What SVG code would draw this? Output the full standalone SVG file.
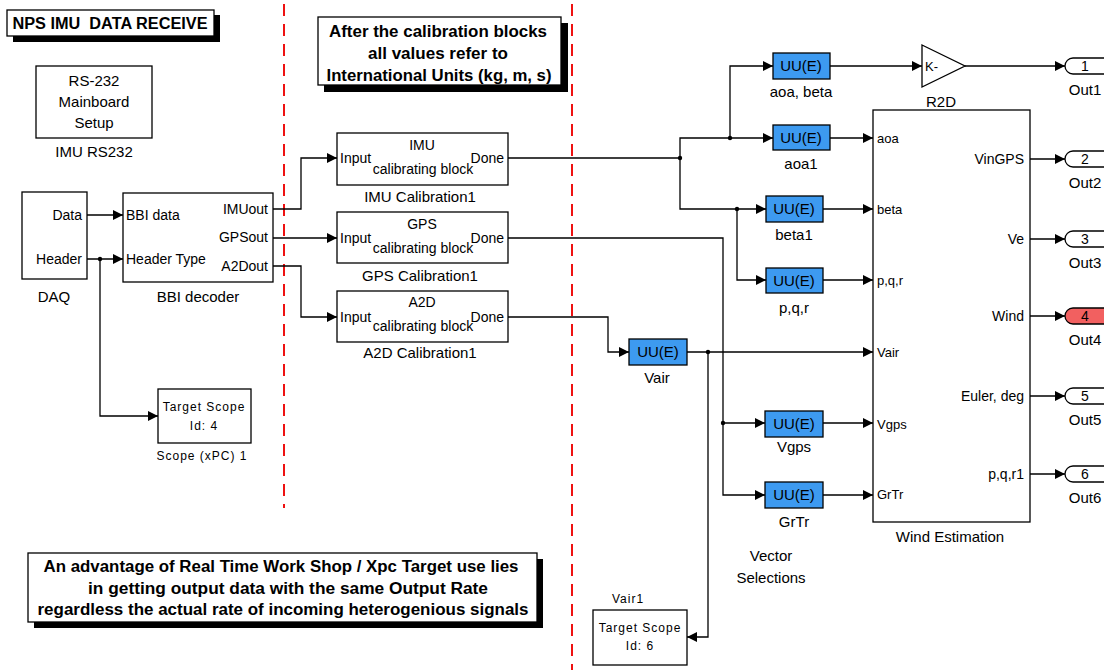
<svg xmlns="http://www.w3.org/2000/svg" width="1104" height="670" viewBox="0 0 1104 670">
  <style>
    text { font-family: "Liberation Sans", Arial, sans-serif; font-size: 14px; fill: #000; }
    .blk { fill: #fff; stroke: #000; stroke-width: 1.3; }
    .uu { fill: #3d9af0; stroke: #000; stroke-width: 1.3; }
    .uut { font-size: 15px; text-anchor: middle; }
    .note { fill: #fff; stroke: #000; stroke-width: 1.3; }
    .shadow { fill: #000; }
    .bold { font-weight: bold; font-size: 16px; text-anchor: middle; }
    .mid { text-anchor: middle; }
    .end { text-anchor: end; }
    .scope { font-size: 12px; letter-spacing: 1px; text-anchor: middle; }
    .wire { fill: none; stroke: #000; stroke-width: 1.3; }
    .arr { marker-end: url(#ah); }
    .sep { stroke: #ee1111; stroke-width: 2; stroke-dasharray: 12 8; fill: none; }
    .out { fill: #fff; stroke: #000; stroke-width: 1.3; }
    .outred { fill: #f26060; stroke: #000; stroke-width: 1.3; }
  </style>
  <defs>
    <marker id="ah" markerUnits="userSpaceOnUse" markerWidth="10" markerHeight="10" refX="10" refY="5" orient="auto">
      <path d="M0,0 L10,5 L0,10 z" fill="#000"/>
    </marker>
  </defs>
  <rect width="1104" height="670" fill="#fff"/>

  <!-- dashed separators -->
  <path class="sep" d="M284,4 V508"/>
  <path class="sep" d="M572,4 V670"/>

  <!-- title annotation -->
  <g id="title">
    <rect class="shadow" x="13" y="15" width="207" height="27"/>
    <rect class="note" x="7" y="10" width="207" height="26"/>
    <text class="bold" x="110" y="29" style="white-space:pre" textLength="195" lengthAdjust="spacingAndGlyphs">NPS IMU  DATA RECEIVE</text>
  </g>

  <g id="note_units">
    <rect class="shadow" x="324" y="23" width="244" height="69"/>
    <rect class="note" x="318" y="17" width="243" height="68"/>
    <text class="bold" x="438" y="37" textLength="218" lengthAdjust="spacingAndGlyphs">After the calibration blocks</text>
    <text class="bold" x="438" y="59" textLength="140" lengthAdjust="spacingAndGlyphs">all values refer to</text>
    <text class="bold" x="439" y="81" textLength="225" lengthAdjust="spacingAndGlyphs">International Units (kg, m, s)</text>
  </g>

  <g id="note_rate">
    <rect class="shadow" x="34" y="559" width="509" height="69"/>
    <rect class="note" x="28" y="553" width="509" height="69"/>
    <text class="bold" x="281" y="572" textLength="475" lengthAdjust="spacingAndGlyphs">An advantage of Real Time Work Shop / Xpc Target use lies</text>
    <text class="bold" x="288" y="594" textLength="400" lengthAdjust="spacingAndGlyphs">in getting output data with the same Output Rate</text>
    <text class="bold" x="283" y="615" textLength="491" lengthAdjust="spacingAndGlyphs">regardless the actual rate of incoming heterogenious signals</text>
  </g>

  <g id="imu_rs232">
    <rect class="blk" x="36" y="66" width="116" height="72"/>
    <text class="mid" x="94" y="86" style="font-size:15px">RS-232</text>
    <text class="mid" x="94" y="107" style="font-size:15px">Mainboard</text>
    <text class="mid" x="94" y="128" style="font-size:15px">Setup</text>
    <text class="mid" x="94" y="157" style="font-size:15px">IMU RS232</text>
  </g>

  <g id="daq">
    <rect class="blk" x="22" y="192" width="65" height="87"/>
    <text class="end" x="82" y="220">Data</text>
    <text class="end" x="82" y="264">Header</text>
    <text class="mid" x="54" y="302" style="font-size:15px">DAQ</text>
  </g>

  <g id="bbi_decoder">
    <rect class="blk" x="123" y="193" width="150" height="89"/>
    <text x="126" y="220">BBI data</text>
    <text x="126" y="264">Header Type</text>
    <text class="end" x="268" y="214">IMUout</text>
    <text class="end" x="268" y="242">GPSout</text>
    <text class="end" x="268" y="271">A2Dout</text>
    <text class="mid" x="198" y="302" style="font-size:15px">BBI decoder</text>
  </g>

  <g id="scope_xpc1">
    <rect class="blk" x="158" y="389" width="93" height="54"/>
    <text class="scope" x="204" y="411">Target Scope</text>
    <text class="scope" x="204" y="430">Id: 4</text>
    <text class="scope" x="202" y="460">Scope (xPC) 1</text>
  </g>

  <g id="imu_calibration1">
    <rect class="blk" x="337" y="133" width="171" height="52"/>
    <text class="mid" x="422" y="150">IMU</text>
    <text class="mid" x="423" y="174">calibrating block</text>
    <text x="340" y="163">Input</text>
    <text class="end" x="504" y="163">Done</text>
    <text class="mid" x="420" y="202" style="font-size:15px">IMU Calibration1</text>
  </g>

  <g id="gps_calibration1">
    <rect class="blk" x="337" y="212" width="171" height="51"/>
    <text class="mid" x="422" y="229">GPS</text>
    <text class="mid" x="423" y="253">calibrating block</text>
    <text x="340" y="243">Input</text>
    <text class="end" x="504" y="243">Done</text>
    <text class="mid" x="420" y="281" style="font-size:15px">GPS Calibration1</text>
  </g>

  <g id="a2d_calibration1">
    <rect class="blk" x="337" y="291" width="171" height="51"/>
    <text class="mid" x="422" y="307">A2D</text>
    <text class="mid" x="423" y="331">calibrating block</text>
    <text x="340" y="322">Input</text>
    <text class="end" x="504" y="322">Done</text>
    <text class="mid" x="420" y="358" style="font-size:15px">A2D Calibration1</text>
  </g>

  <g id="sel_aoa_beta">
    <rect class="uu" x="773" y="53" width="57" height="26"/>
    <text class="uut" x="801" y="71">UU(E)</text>
    <text class="mid" x="801" y="97" style="font-size:15px">aoa, beta</text>
  </g>
  <g id="sel_aoa1">
    <rect class="uu" x="773" y="125" width="57" height="25"/>
    <text class="uut" x="801" y="143">UU(E)</text>
    <text class="mid" x="801" y="169" style="font-size:15px">aoa1</text>
  </g>
  <g id="sel_beta1">
    <rect class="uu" x="766" y="196" width="57" height="26"/>
    <text class="uut" x="794" y="214">UU(E)</text>
    <text class="mid" x="794" y="240" style="font-size:15px">beta1</text>
  </g>
  <g id="sel_pqr">
    <rect class="uu" x="766" y="268" width="57" height="25"/>
    <text class="uut" x="794" y="286">UU(E)</text>
    <text class="mid" x="794" y="313" style="font-size:15px">p,q,r</text>
  </g>
  <g id="sel_vair">
    <rect class="uu" x="629" y="339" width="58" height="26"/>
    <text class="uut" x="658" y="357">UU(E)</text>
    <text class="mid" x="657" y="383" style="font-size:15px">Vair</text>
  </g>
  <g id="sel_vgps">
    <rect class="uu" x="765" y="411" width="58" height="26"/>
    <text class="uut" x="794" y="429">UU(E)</text>
    <text class="mid" x="794" y="452" style="font-size:15px">Vgps</text>
  </g>
  <g id="sel_grtr">
    <rect class="uu" x="765" y="482" width="58" height="26"/>
    <text class="uut" x="794" y="500">UU(E)</text>
    <text class="mid" x="794" y="527" style="font-size:15px">GrTr</text>
  </g>

  <text id="vector_selections_label" class="mid" x="771" y="561" style="font-size:15px">Vector</text>
  <text class="mid" x="771" y="583" style="font-size:15px">Selections</text>

  <g id="r2d">
    <path d="M922,45 L965,66 L922,87 z" fill="#fff" stroke="#000" stroke-width="1.3"/>
    <text x="925" y="71" style="font-size:13px">K-</text>
    <text class="mid" x="941" y="107" style="font-size:15px">R2D</text>
  </g>

  <g id="wind_estimation">
    <rect class="blk" x="873" y="110" width="157" height="412"/>
    <text x="877" y="143" style="font-size:13px">aoa</text>
    <text x="877" y="214" style="font-size:13px">beta</text>
    <text x="877" y="285" style="font-size:13px">p,q,r</text>
    <text x="877" y="357" style="font-size:13px">Vair</text>
    <text x="877" y="429" style="font-size:13px">Vgps</text>
    <text x="877" y="499" style="font-size:13px">GrTr</text>
    <text class="end" x="1024" y="164">VinGPS</text>
    <text class="end" x="1024" y="244">Ve</text>
    <text class="end" x="1024" y="321">Wind</text>
    <text class="end" x="1024" y="401">Euler, deg</text>
    <text class="end" x="1024" y="479">p,q,r1</text>
    <text class="mid" x="950" y="542" style="font-size:15px">Wind Estimation</text>
  </g>

  <g id="scope_vair1">
    <rect class="blk" x="593" y="610" width="94" height="55"/>
    <text class="scope" x="640" y="632">Target Scope</text>
    <text class="scope" x="640" y="650">Id: 6</text>
    <text class="scope" x="628" y="603">Vair1</text>
  </g>

  <!-- output ports -->
  <g id="out1">
    <rect class="out" x="1065" y="58" width="50" height="16" rx="8"/>
    <text class="mid" x="1085" y="71">1</text>
    <text class="mid" x="1085" y="95" style="font-size:15px">Out1</text>
  </g>
  <g id="out2">
    <rect class="out" x="1065" y="151" width="50" height="16" rx="8"/>
    <text class="mid" x="1085" y="164">2</text>
    <text class="mid" x="1085" y="188" style="font-size:15px">Out2</text>
  </g>
  <g id="out3">
    <rect class="out" x="1065" y="231" width="50" height="16" rx="8"/>
    <text class="mid" x="1085" y="244">3</text>
    <text class="mid" x="1085" y="268" style="font-size:15px">Out3</text>
  </g>
  <g id="out4">
    <rect class="outred" x="1065" y="308" width="50" height="16" rx="8"/>
    <text class="mid" x="1085" y="321">4</text>
    <text class="mid" x="1085" y="345" style="font-size:15px">Out4</text>
  </g>
  <g id="out5">
    <rect class="out" x="1065" y="388" width="50" height="16" rx="8"/>
    <text class="mid" x="1085" y="401">5</text>
    <text class="mid" x="1085" y="425" style="font-size:15px">Out5</text>
  </g>
  <g id="out6">
    <rect class="out" x="1065" y="466" width="50" height="16" rx="8"/>
    <text class="mid" x="1085" y="479">6</text>
    <text class="mid" x="1085" y="503" style="font-size:15px">Out6</text>
  </g>

  <!-- signal lines -->
  <g id="connectors">
    <path class="wire arr" d="M87,215 H123"/>
    <path class="wire arr" d="M87,259 H123"/>
    <path class="wire arr" d="M100,259 V416 H158"/>
    <path class="wire arr" d="M273,209 H301 V158 H337"/>
    <path class="wire arr" d="M273,238 H337"/>
    <path class="wire arr" d="M273,266 H301 V317 H337"/>

    <path class="wire arr" d="M508,158 H680 V138 H773"/>
    <path class="wire arr" d="M730,138 V66 H773"/>
    <path class="wire arr" d="M680,158 V209 H766"/>
    <path class="wire arr" d="M737,209 V280 H766"/>

    <path class="wire arr" d="M508,238 H723 V495 H765"/>
    <path class="wire arr" d="M723,423 H765"/>

    <path class="wire arr" d="M508,317 H608 V352 H629"/>
    <path class="wire arr" d="M687,352 H873"/>
    <path class="wire arr" d="M708,352 V637 H687"/>

    <path class="wire arr" d="M830,66 H922"/>
    <path class="wire arr" d="M965,66 H1065"/>
    <path class="wire arr" d="M830,138 H873"/>
    <path class="wire arr" d="M823,209 H873"/>
    <path class="wire arr" d="M823,280 H873"/>
    <path class="wire arr" d="M823,423 H873"/>
    <path class="wire arr" d="M823,495 H873"/>

    <path class="wire arr" d="M1030,159 H1065"/>
    <path class="wire arr" d="M1030,239 H1065"/>
    <path class="wire arr" d="M1030,316 H1065"/>
    <path class="wire arr" d="M1030,396 H1065"/>
    <path class="wire arr" d="M1030,474 H1065"/>

    <g fill="#000">
      <circle cx="100" cy="259" r="2.2"/>
      <circle cx="680" cy="158" r="2.2"/>
      <circle cx="730" cy="138" r="2.2"/>
      <circle cx="737" cy="209" r="2.2"/>
      <circle cx="723" cy="423" r="2.2"/>
      <circle cx="708" cy="352" r="2.2"/>
    </g>
  </g>
</svg>
